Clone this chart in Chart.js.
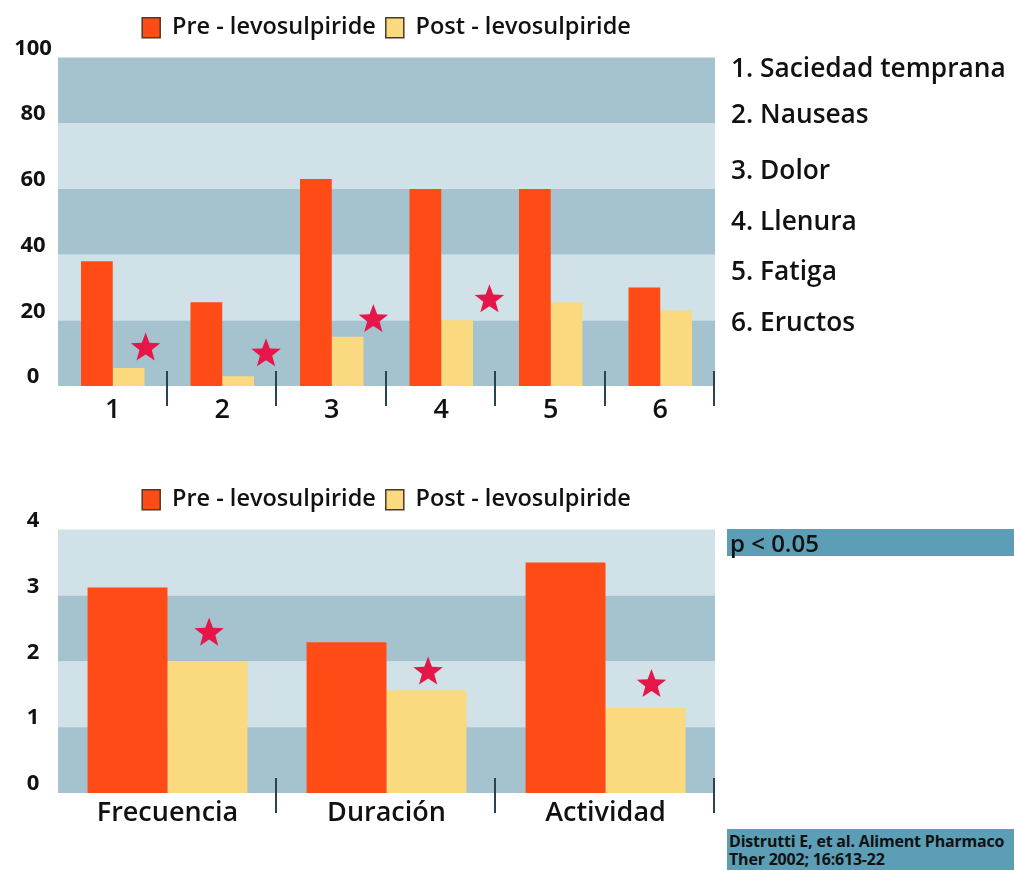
<!DOCTYPE html>
<html>
<head>
<meta charset="utf-8">
<script src="https://cdn.jsdelivr.net/npm/chart.js@4"></script>
<style>
  body { margin: 0; width: 1014px; height: 870px; position: relative; overflow: hidden; background: #fff; font-family: "Open Sans", sans-serif; color: #111; }
  .wrap { position: absolute; left: 0; width: 786px; }
  #w1 { top: 0; height: 430px; }
  #w2 { top: 472px; height: 365px; }
  .sym { position: absolute; left: 731px; font-size: 26.3px; font-weight: 600; line-height: 30px; white-space: nowrap; }
  #pbox { position: absolute; left: 727px; top: 529px; width: 284px; height: 27px; padding-left: 3px; background: #5b9eb6; font-size: 24px; font-weight: 600; line-height: 27px; }
  #ref { position: absolute; left: 727px; top: 829px; width: 287px; height: 38px; padding-left: 2px; padding-top: 3px; background: #5b9eb6; font-size: 16px; font-weight: 700; line-height: 18px; white-space: nowrap; overflow: hidden; letter-spacing: -0.2px; }
</style>
</head>
<body>
<div class="wrap" id="w1"><canvas id="chart1"></canvas></div>
<div class="wrap" id="w2"><canvas id="chart2"></canvas></div>
<div id="symList"></div>
<div id="pbox">p &lt; 0.05</div>
<div id="ref">Distrutti E, et al. Aliment Pharmaco<br>Ther 2002; 16:613-22</div>
<script>
/* DATA */
const seriesNames = ["Pre - levosulpiride", "Post - levosulpiride"];

const symptomLabels = ["1", "2", "3", "4", "5", "6"];
const symptomNames = ["1. Saciedad temprana", "2. Nauseas", "3. Dolor", "4. Llenura", "5. Fatiga", "6. Eructos"];
const symptomPre = [38, 25.5, 63, 60, 60, 30];
const symptomPost = [5.5, 3, 15, 20, 25.5, 23];
const symptomStarX = [0.3, 1.4, 2.38, 3.44];
const symptomStarY = [12, 10.3, 20.7, 26.7];
const symptomTicks = [0, 20, 40, 60, 80, 100];

const paramLabels = ["Frecuencia", "Duración", "Actividad"];
const paramPre = [3.12, 2.29, 3.5];
const paramPost = [2.0, 1.56, 1.29];
const paramStarX = [0.19, 1.19, 2.21];
const paramStarY = [2.45, 1.86, 1.67];
const paramTicks = [0, 1, 2, 3, 4];

/* STYLE */
const preColor = "#ff4b16";
const postColor = "#fbd97f";
const starColor = "#e5174a";
const bandDark = "#a5c3cf";
const bandLight = "#d0e1e7";
const font = "'Open Sans', sans-serif";
const symTops = [52, 98, 154, 205, 255, 306];

/* SYMPTOM LIST */
const list = document.getElementById("symList");
symptomNames.forEach((name, i) => {
  const d = document.createElement("div");
  d.className = "sym";
  d.style.top = symTops[i] + "px";
  d.textContent = name;
  list.appendChild(d);
});

/* STAR SHAPE */
function drawStar(ctx, cx, cy, R) {
  const r = R * 0.42;
  cy += R * 0.0955;
  ctx.beginPath();
  for (let k = 0; k < 10; k++) {
    const rad = k % 2 ? r : R;
    const a = -Math.PI / 2 + k * Math.PI / 5;
    ctx.lineTo(cx + rad * Math.cos(a), cy + rad * Math.sin(a));
  }
  ctx.closePath();
  ctx.fill();
}

/* PLUGINS */
const legendGap = {
  id: "legendGap",
  beforeInit(chart) {
    const fit = chart.legend.fit;
    chart.legend.fit = function () {
      fit.bind(chart.legend)();
      this.height += chart.options.legendExtra;
    };
  }
};

const bands = {
  id: "bands",
  beforeDatasetsDraw(chart) {
    const { ctx, chartArea: a, scales: { y } } = chart;
    const ticks = chart.options.bandTicks;
    for (let k = 0; k < ticks.length - 1; k++) {
      const y0 = y.getPixelForValue(ticks[k]);
      const y1 = y.getPixelForValue(ticks[k + 1]);
      ctx.fillStyle = k % 2 ? bandLight : bandDark;
      ctx.fillRect(a.left, y1, a.right - a.left, y0 - y1);
    }
  }
};

const yLabels = {
  id: "yLabels",
  afterDraw(chart) {
    const { ctx, scales: { y } } = chart;
    ctx.save();
    ctx.font = "700 22px " + font;
    ctx.fillStyle = "#111";
    ctx.textAlign = "center";
    ctx.textBaseline = "middle";
    chart.options.bandTicks.forEach(v => {
      ctx.fillText(String(v), 33, y.getPixelForValue(v) - 9);
    });
    ctx.restore();
  }
};

const marks = {
  id: "marks",
  afterDatasetsDraw(chart) {
    const { ctx, scales: { x, y } } = chart;
    const n = chart.data.labels.length;
    const base = y.getPixelForValue(0);
    ctx.save();
    // category dividers
    ctx.strokeStyle = "#2b4350";
    ctx.lineWidth = 2;
    for (let i = 0; i < n; i++) {
      const px = Math.round(x.getPixelForValue(i + 0.5)) - 1;
      ctx.beginPath();
      ctx.moveTo(px, base - 15);
      ctx.lineTo(px, base + 20);
      ctx.stroke();
    }
    // significance stars
    ctx.fillStyle = starColor;
    const st = chart.options.stars;
    st.x.forEach((sx, i) => drawStar(ctx, x.getPixelForValue(sx), y.getPixelForValue(st.y[i]), 15.5));
    ctx.restore();
  }
};

/* BUILD CHART */
function buildChart(id, labels, pre, post, starX, starY, ticks, catPct, tickPad) {
  return new Chart(document.getElementById(id), {
    type: "bar",
    data: {
      labels,
      datasets: [
        { label: seriesNames[0], data: pre, backgroundColor: preColor, borderWidth: 0 },
        { label: seriesNames[1], data: post, backgroundColor: postColor, borderWidth: 0 }
      ]
    },
    options: {
      bandTicks: ticks,
      stars: { x: starX, y: starY },
      legendExtra: 8,
      responsive: true,
      maintainAspectRatio: false,
      animation: false,
      events: [],
      categoryPercentage: catPct,
      barPercentage: 1,
      layout: { padding: { left: 58, right: 71, top: 6 } },
      scales: {
        x: {
          grid: { display: false, drawTicks: false },
          border: { display: false },
          ticks: { color: "#111", font: { family: font, size: 27, weight: "600" }, padding: tickPad },
          afterFit: s => { s.height = 44; }
        },
        y: { display: false, min: ticks[0], max: ticks[ticks.length - 1] }
      },
      plugins: {
        tooltip: { enabled: false },
        legend: {
          labels: {
            color: "#111",
            boxWidth: 18,
            boxHeight: 20,
            padding: 10,
            font: { family: font, size: 23.5, weight: "600" },
            generateLabels: chart => Chart.defaults.plugins.legend.labels.generateLabels(chart)
              .map(l => Object.assign(l, { strokeStyle: "#4a3a28", lineWidth: 1.5 }))
          }
        }
      }
    },
    plugins: [legendGap, bands, yLabels, marks]
  });
}

/* INIT */
buildChart("chart1", symptomLabels, symptomPre, symptomPost, symptomStarX, symptomStarY, symptomTicks, 0.58, 8);
buildChart("chart2", paramLabels, paramPre, paramPost, paramStarX, paramStarY, paramTicks, 0.73, 4);
</script>
</body>
</html>
